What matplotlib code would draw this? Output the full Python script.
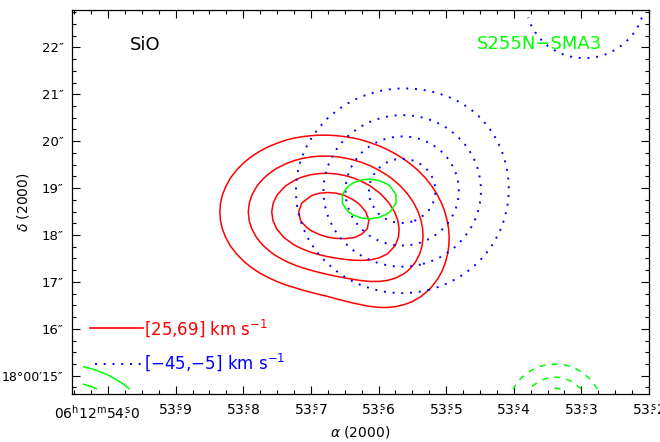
import numpy as np
import matplotlib
matplotlib.use("Agg")
import matplotlib.pyplot as plt
from matplotlib.ticker import FixedLocator, MultipleLocator
import matplotlib.transforms as mtransforms

# ---------------- data ----------------
ra_ticks = [54.0, 53.9, 53.8, 53.7, 53.6, 53.5, 53.4, 53.3, 53.2]
ra_tick_labels = [r'$06^{\mathrm{h}}12^{\mathrm{m}}54\overset{\mathrm{s}}{.}0$',
                  r'$53\overset{\mathrm{s}}{.}9$', r'$53\overset{\mathrm{s}}{.}8$',
                  r'$53\overset{\mathrm{s}}{.}7$', r'$53\overset{\mathrm{s}}{.}6$',
                  r'$53\overset{\mathrm{s}}{.}5$', r'$53\overset{\mathrm{s}}{.}4$',
                  r'$53\overset{\mathrm{s}}{.}3$', r'$53\overset{\mathrm{s}}{.}2$']
dec_ticks = [15, 16, 17, 18, 19, 20, 21, 22]
dec_tick_labels = ['18°00′15″', '16″', '17″', '18″', '19″', '20″', '21″', '22″']

ra_limits = [54.0533, 53.2]
dec_limits = [14.61, 22.797]
map_ra_range = [53.2, 54.047]
map_dec_range = [14.716, 22.80]

# red emission [25,69] km/s : gaussian components
red_ra0 = [53.6834, 53.5754]
red_dec0 = [18.490, 17.574]
red_sig_ra = [0.0888, 0.0621]
red_sig_dec = [0.960, 0.960]
red_peak = [0.85, 0.30]
red_levels = [0.2, 0.4, 0.6, 0.8]

# blue emission [-45,-5] km/s
blue_ra0 = [53.5651, 53.2944]
blue_dec0 = [18.938, 23.053]
blue_sig_ra = [0.0894, 0.0985]
blue_sig_dec = [1.239, 1.420]
blue_peak = [0.933, 0.30]
blue_levels = [0.2, 0.4, 0.6, 0.8]

# green (continuum) map
green_ra0 = [53.6139, 53.3387, 54.0666]
green_dec0 = [18.7676, 14.226, 13.011]
green_sig_ra = [0.0451, 0.0414, 0.0716]
green_sig_dec = [0.473, 0.597, 1.032]
green_peak = [0.30, -0.865, 2.01]
green_levels = [-0.6, -0.4, -0.2, 0.2, 0.4]

legend_red = '[25,69] km s$^{-1}$'
legend_blue = '[−45,−5] km s$^{-1}$'
line_label = 'SiO'
source_label = 'S255N−SMA3'

# ---------------- figure ----------------
fig = plt.figure(figsize=(6.6, 4.42), dpi=100)
ax = fig.add_axes([72 / 660, 48 / 442, 577 / 660, 384 / 442])

ra = np.arange(map_ra_range[0], map_ra_range[1], 0.0125)
dec = np.arange(map_dec_range[0], map_dec_range[1], 0.18)
RA, DEC = np.meshgrid(ra, dec)


def model(ra0, dec0, sra, sdec, peak):
    z = np.zeros_like(RA)
    for a, d, sa, sd, p in zip(ra0, dec0, sra, sdec, peak):
        z += p * np.exp(-0.5 * (((RA - a) / sa) ** 2 + ((DEC - d) / sd) ** 2))
    return z


red_map = model(red_ra0, red_dec0, red_sig_ra, red_sig_dec, red_peak)
blue_map = model(blue_ra0, blue_dec0, blue_sig_ra, blue_sig_dec, blue_peak)
green_map = model(green_ra0, green_dec0, green_sig_ra, green_sig_dec, green_peak)

ax.contour(RA, DEC, red_map, levels=red_levels, colors='#ff0000',
           linewidths=1.1, linestyles='solid')
ax.contour(RA, DEC, blue_map, levels=blue_levels, colors='#0000ff',
           linewidths=1.4, linestyles=[(0, (1, 3.5))])
g_styles = [(0, (4, 4)) if lv < 0 else 'solid' for lv in green_levels]
ax.contour(RA, DEC, green_map, levels=green_levels, colors='#00ff00',
           linewidths=1.1, linestyles=g_styles)

ax.set_xlim(ra_limits)
ax.set_ylim(dec_limits)

ax.xaxis.set_major_locator(FixedLocator(ra_ticks))
ax.set_xticklabels(ra_tick_labels, fontsize=10)
ax.xaxis.set_minor_locator(MultipleLocator(0.025))
ax.yaxis.set_major_locator(FixedLocator(dec_ticks))
ax.set_yticklabels(dec_tick_labels, fontsize=9.5)
ax.yaxis.set_minor_locator(MultipleLocator(0.25))

ax.tick_params(which='both', direction='in', top=True, right=True,
               width=0.8, colors='black')
ax.tick_params(which='major', length=6)
ax.tick_params(which='minor', length=3)
ax.tick_params(axis='x', pad=7)
ax.tick_params(axis='y', pad=6)
for s in ax.spines.values():
    s.set_linewidth(0.9)

# first Dec label is the long one: slightly smaller, as in the reference
ax.yaxis.get_major_ticks()[0].label1.set_fontsize(9)

# shift first RA label a bit left, as in the reference
first = ax.xaxis.get_major_ticks()[0].label1
first.set_transform(first.get_transform() +
                    mtransforms.ScaledTranslation(-11 / 100, 0, fig.dpi_scale_trans))

ax.set_xlabel(r'$\alpha$ (2000)', fontsize=10)
ax.set_ylabel(r'$\delta$ (2000)', fontsize=10)
ax.xaxis.set_label_coords(0.5, -0.099)
ax.xaxis.label.set_va('center')
ax.yaxis.set_label_coords(-0.085, 0.5)
ax.yaxis.label.set_va('center')
ax.yaxis.label.set_ha('center')

# labels in the panel
ax.text(0.1005, 0.909, line_label, transform=ax.transAxes, fontsize=13,
        color='black', ha='left', va='center')
ax.text(0.702, 0.911, source_label, transform=ax.transAxes, fontsize=13,
        color='#00ff00', ha='left', va='center')

# legend
ax.plot([0.031, 0.123], [0.172, 0.172], transform=ax.transAxes,
        color='#ff0000', lw=1.2)
ax.text(0.125, 0.172, legend_red, transform=ax.transAxes, fontsize=12,
        color='#ff0000', ha='left', va='center')
ax.plot([0.040, 0.123], [0.078, 0.078], transform=ax.transAxes,
        color='#0000ff', lw=1.4, linestyle=(0, (1, 3.5)))
ax.text(0.125, 0.083, legend_blue, transform=ax.transAxes, fontsize=12,
        color='#0000ff', ha='left', va='center')

fig.savefig('out.png', dpi=100)
